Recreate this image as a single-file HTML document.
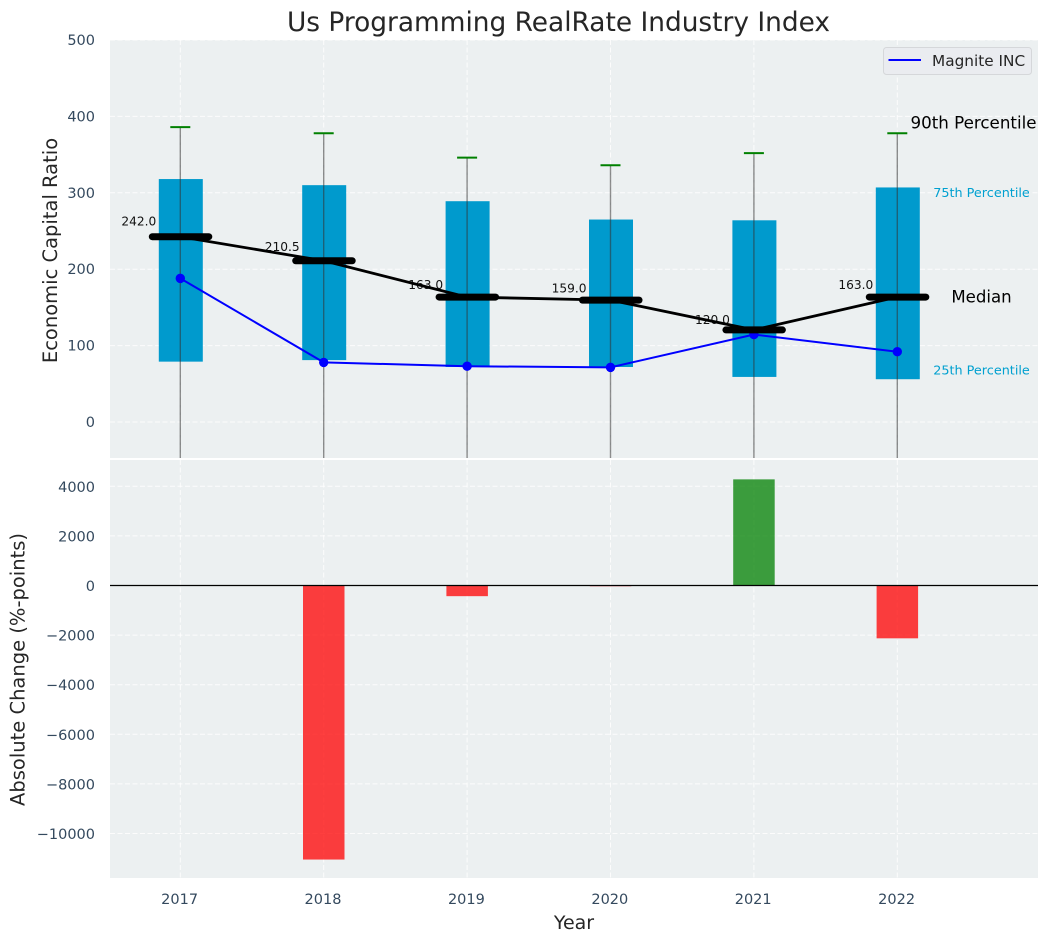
<!DOCTYPE html>
<html lang="en">
<head>
<meta charset="utf-8">
<title>Us Programming RealRate Industry Index</title>
<style>
html,body{margin:0;padding:0;background:#fff;width:1048px;height:942px;overflow:hidden}
svg{display:block}
text{font-family:"DejaVu Sans","Liberation Sans",sans-serif}
</style>
</head>
<body>
<svg id="chart" xmlns="http://www.w3.org/2000/svg" width="1048" height="942" viewBox="0 0 1048 942">
  <defs>
    <clipPath id="top-clip"><rect x="110" y="40" width="928" height="418"/></clipPath>
    <clipPath id="bottom-clip"><rect x="110" y="460" width="928" height="418"/></clipPath>
  </defs>
  <text x="558.5" y="31" font-size="26.4" text-anchor="middle" fill="#262626">Us Programming RealRate Industry Index</text>
  <rect x="110" y="40" width="928" height="418" fill="#ecf0f1"/>
  <rect x="110" y="460" width="928" height="418" fill="#ecf0f1"/>
  <g id="top-grid"></g>
  <g id="bottom-grid"></g>
  <g id="top-marks" clip-path="url(#top-clip)"></g>
  <g id="bottom-marks" clip-path="url(#bottom-clip)"></g>
  <g id="ticks"></g>
  <text transform="translate(57,250.5) rotate(-90)" font-size="19.5" text-anchor="middle" fill="#262626">Economic Capital Ratio</text>
  <text transform="translate(24.5,669.5) rotate(-90)" font-size="19.5" text-anchor="middle" fill="#262626">Absolute Change (%-points)</text>
  <text x="574" y="929" font-size="19" text-anchor="middle" fill="#262626">Year</text>
  <g>
    <rect x="883.5" y="47.5" width="148" height="27" rx="3" fill="#eaecf0" stroke="#d5d7da" stroke-width="1"/>
    <line x1="888.5" y1="60" x2="921" y2="60" stroke="#0000ff" stroke-width="2"/>
    <text x="932" y="66" font-size="15.3" fill="#262626">Magnite INC</text>
  </g>
</svg>
<script>
const years = ["2017", "2018", "2019", "2020", "2021", "2022"];
const p90 = [386, 378, 346, 336, 352, 378];
const p75 = [318, 310, 289, 265, 264, 307];
const median = [242, 210.5, 163, 159, 120, 163];
const p25 = [79, 81, 72, 72, 59, 56];
const p10 = [-70, -70, -70, -70, -70, -70];
const magnite = [188, 78, 73, 71.5, 114.5, 92];
const changes = [0, -11050, -430, -30, 4280, -2130];
const topTicks = [0, 100, 200, 300, 400, 500];
const bottomTicks = [-10000, -8000, -6000, -4000, -2000, 0, 2000, 4000];

const NS = "http://www.w3.org/2000/svg";
const LEFT = 110, RIGHT = 1038;
const TICK_SIZE = 14.5;
const TICK_COLOR = "#34495e";
const xScale = i => 180.3 + i * 143.4;
const yTop = v => 422 - v * 0.764;
const yBottom = v => 585.5 - v * 0.0248;

function mk(tag, parent, attrs, txt) {
  const el = document.createElementNS(NS, tag);
  for (const k in attrs) el.setAttribute(k, attrs[k]);
  if (txt !== undefined) el.textContent = txt;
  parent.appendChild(el);
  return el;
}
function fmtTick(v) {
  return v < 0 ? "\u2212" + Math.abs(v) : String(v);
}

const topGrid = document.getElementById("top-grid");
const bottomGrid = document.getElementById("bottom-grid");
const topMarks = document.getElementById("top-marks");
const bottomMarks = document.getElementById("bottom-marks");
const ticks = document.getElementById("ticks");
const gridStyle = {stroke: "#ffffff", "stroke-width": 1, "stroke-dasharray": "5 2.5", opacity: 0.85};

topTicks.forEach(v => {
  const y = yTop(v);
  const g = mk("line", topGrid, {x1: LEFT, x2: RIGHT, y1: y, y2: y, ...gridStyle});
  
  
  const t = mk("text", ticks, {x: 95, y: y + 5, "font-size": TICK_SIZE, "text-anchor": "end", fill: TICK_COLOR}, fmtTick(v));
  
  
});
bottomTicks.forEach(v => {
  const y = yBottom(v);
  const g = mk("line", bottomGrid, {x1: LEFT, x2: RIGHT, y1: y, y2: y, ...gridStyle});
  
  
  const t = mk("text", ticks, {x: 95, y: y + 5.5, "font-size": TICK_SIZE, "text-anchor": "end", fill: TICK_COLOR}, fmtTick(v));
  
  
});
years.forEach((yr, i) => {
  const x = xScale(i);
  const g1 = mk("line", topGrid, {x1: x, x2: x, y1: 40, y2: 458, ...gridStyle});
  
  
  const g2 = mk("line", bottomGrid, {x1: x, x2: x, y1: 460, y2: 878, ...gridStyle});
  
  
  const t = mk("text", ticks, {x: x - 0.7, y: 904, "font-size": TICK_SIZE, "text-anchor": "middle", fill: TICK_COLOR}, yr);
  
  
});

/* interquartile boxes */
years.forEach((yr, i) => {
  const x = xScale(i);
  const box = mk("rect", topMarks, {x: x - 21.5, width: 44, y: yTop(p75[i]), height: yTop(p25[i]) - yTop(p75[i]), fill: "#009acd"});
  
  
});
/* whiskers */
years.forEach((yr, i) => {
  const x = xScale(i);
  const w = mk("line", topMarks, {x1: x, x2: x, y1: yTop(p90[i]), y2: yTop(p10[i]), stroke: "#333333", "stroke-opacity": 0.55, "stroke-width": 1.4});
  
  
  const c = mk("line", topMarks, {x1: x - 10, x2: x + 10, y1: yTop(p90[i]), y2: yTop(p90[i]), stroke: "#008000", "stroke-width": 2});
  
  
});
/* magnite series */
const magLine = mk("polyline", topMarks, {points: magnite.map((v, i) => xScale(i) + "," + yTop(v)).join(" "), fill: "none", stroke: "#0000ff", "stroke-width": 2});


magnite.forEach((v, i) => {
  const p = mk("circle", topMarks, {cx: xScale(i), cy: yTop(v), r: 4.7, fill: "#0000ff"});
  
  
});
/* value labels below the median marks */
median.forEach((v, i) => {
  const t = mk("text", topMarks, {x: xScale(i) - 24, y: yTop(v * 1.054) - 1.5, "font-size": 12.2, "text-anchor": "end", fill: "#111111"}, v.toFixed(1));
  
  
});
/* median line + thick markers */
const medLine = mk("polyline", topMarks, {points: median.map((v, i) => xScale(i) + "," + (yTop(v) - 0.4)).join(" "), fill: "none", stroke: "#000000", "stroke-width": 2.8});


median.forEach((v, i) => {
  const x = xScale(i);
  const m = mk("line", topMarks, {x1: x - 28, x2: x + 28.5, y1: yTop(v) - 0.4, y2: yTop(v) - 0.4, stroke: "#000000", "stroke-width": 7, "stroke-linecap": "round"});
  
  
});
/* percentile annotations tied to the last year */
const last = years.length - 1;
const a90 = mk("text", topMarks, {x: 973.5, y: yTop(p90[last]) - 4.5, "font-size": 16.7, "text-anchor": "middle", fill: "#000000"}, "90th Percentile");


const a75 = mk("text", topMarks, {x: 981.5, y: yTop(p75[last]) + 9.5, "font-size": 12.8, "text-anchor": "middle", fill: "#00a0d0"}, "75th Percentile");


const aMed = mk("text", topMarks, {x: 981.5, y: yTop(median[last]) + 5, "font-size": 16.6, "text-anchor": "middle", fill: "#000000"}, "Median");


const a25 = mk("text", topMarks, {x: 981.5, y: yTop(p25[last]) - 4.5, "font-size": 12.8, "text-anchor": "middle", fill: "#00a0d0"}, "25th Percentile");



/* change bars */
changes.forEach((v, i) => {
  const x = xScale(i);
  const y0 = yBottom(0), y1 = yBottom(v);
  const b = mk("rect", bottomMarks, {x: x - 20.7, width: 41.5, y: Math.min(y0, y1), height: Math.abs(y1 - y0), fill: v >= 0 ? "#008000" : "#ff0000", "fill-opacity": 0.75});
  
  
});
const zero = mk("line", bottomMarks, {x1: LEFT, x2: RIGHT, y1: yBottom(0), y2: yBottom(0), stroke: "#000000", "stroke-width": 1.2});


</script>
</body>
</html>
